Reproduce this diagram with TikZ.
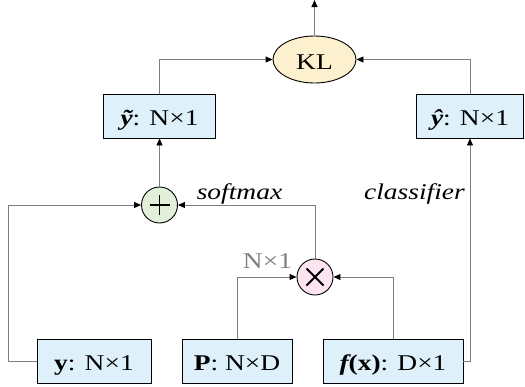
\documentclass[tikz,border=0pt]{standalone}
\usepackage{fontspec}
\setmainfont{Liberation Serif}[FakeStretch=1.22]
\usetikzlibrary{arrows.meta,shapes.geometric}
\definecolor{boxfill}{HTML}{DEF1FB}
\definecolor{klfill}{HTML}{FDF0CF}
\definecolor{addfill}{HTML}{E2F0D9}
\definecolor{mulfill}{HTML}{FCE4F0}
\definecolor{wire}{HTML}{7F7F7F}
\tikzset{
  tensor/.style={draw=black, line width=0.9pt, fill=boxfill, minimum height=44pt,
    inner sep=0pt, text height=21pt, text depth=1.5pt,
    font=\fontsize{22.5}{26}\selectfont},
  klnode/.style={ellipse, draw=black, line width=0.9pt, fill=klfill,
    minimum width=83pt, minimum height=47pt, inner sep=0pt,
    text height=19pt, text depth=0pt, font=\fontsize{22.5}{26}\selectfont},
  opnode/.style={circle, draw=black, line width=0.9pt, minimum size=36pt, inner sep=0pt},
  wirestyle/.style={draw=wire, line width=0.9pt},
  flow/.style={wirestyle, -{Triangle[length=7pt,width=6pt,color=black]}},
  lbl/.style={anchor=base, inner sep=0pt, font=\fontsize{22.5}{26}\selectfont\itshape},
}
\begin{document}
\begin{tikzpicture}[x=1pt,y=-1pt]
\useasboundingbox (0,0) rectangle (525,386);

% nodes
\node[klnode] (kl) at (314.5,59.5) {KL};
\node[tensor, minimum width=112pt] (ytil) at (159.5,116) {{\bfseries\itshape ỹ}: N×1};
\node[tensor, minimum width=107pt] (yhat) at (470,116) {{\bfseries\itshape ŷ}: N×1};
\node[opnode, fill=addfill] (add) at (159.5,205) {};
\node[opnode, fill=mulfill] (mul) at (315,277) {};
\node[tensor, minimum width=114pt] (y) at (94,361) {{\bfseries y}: N×1};
\node[tensor, minimum width=110pt] (P) at (237,361) {{\bfseries P}: N×D};
\node[tensor, minimum width=140pt] (fx) at (393,361) {{\bfseries\itshape f}{\bfseries (x)}: D×1};
\coordinate (out) at (314.5,0);

% operator glyphs
\draw[line width=1.8pt] ([xshift=-10pt]add.center) -- ([xshift=10pt]add.center)
  ([yshift=-10pt]add.center) -- ([yshift=10pt]add.center);
\draw[line width=1.8pt] ([shift={(-8.5pt,-8.5pt)}]mul.center) -- ([shift={(8.5pt,8.5pt)}]mul.center)
  ([shift={(-8.5pt,8.5pt)}]mul.center) -- ([shift={(8.5pt,-8.5pt)}]mul.center);

% connectors
\draw[flow] (kl.north) -- (out);
\draw[flow] (ytil.north) |- (kl.west);
\draw[flow] (yhat.north) |- (kl.east);
\draw[flow] (add.north) -- (ytil.south);
\draw[flow] (y.west) -- ++(-28,0) |- (add.west);
\draw[flow] (mul.north) |- (add.east);
\draw[flow] (P.north) |- (mul.west);
\draw[flow] (fx.north) |- (mul.east);
\draw[flow] (fx.east) -| (yhat.south);

% labels
\node[lbl] (sm) at (239.5,199) {softmax};
\node[lbl] (cl) at (414.5,199) {classifier};
\node[lbl, font=\fontsize{22.5}{26}\selectfont, text=wire] (dim) at (267.5,268) {N×1};
\end{tikzpicture}
\end{document}
